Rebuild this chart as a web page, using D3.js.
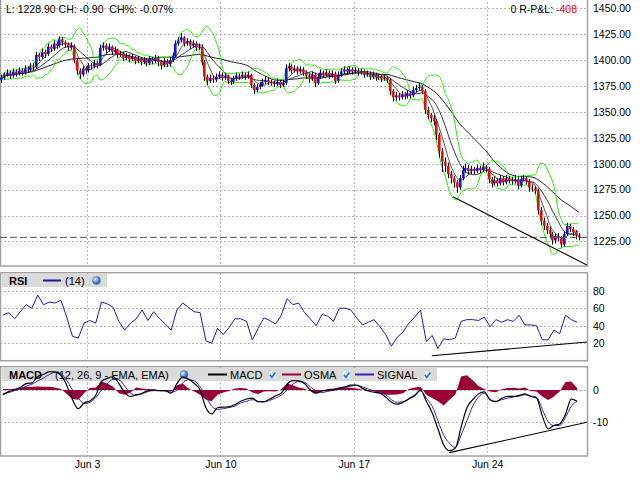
<!DOCTYPE html>
<html>
<head>
<meta charset="utf-8">
<script src="https://cdn.jsdelivr.net/npm/d3@7"></script>
<style>
  body { margin: 0; background: #fff; }
  svg { display: block; font-family: "Liberation Sans", Arial, sans-serif; }
</style>
</head>
<body>
<svg id="chart" width="640" height="480"></svg>
<script>
// bar data (open = previous close)
let firstOpen = 1381;
let closes = [
  1383,1386,1388,1385,1389,1387,1390,1388,1392,1391,
  1394,1393,1405,1403,1408,1406,1413,1411,1416,1414,
  1420,1417,1415,1412,1414,1400,1390,1386,1392,1390,
  1395,1394,1397,1395,1412,1414,1410,1413,1408,1410,
  1405,1406,1402,1404,1401,1403,1399,1401,1398,1400,
  1397,1401,1399,1402,1398,1395,1399,1396,1400,1404,
  1416,1419,1422,1416,1418,1414,1416,1412,1413,1398,
  1384,1380,1383,1381,1384,1386,1383,1385,1380,1379,
  1382,1385,1384,1386,1384,1386,1376,1371,1374,1376,
  1379,1381,1379,1378,1377,1379,1376,1378,1392,1394,
  1390,1392,1389,1391,1388,1385,1382,1386,1378,1384,
  1388,1386,1388,1385,1387,1380,1386,1389,1391,1389,
  1391,1389,1390,1388,1389,1386,1387,1384,1386,1383,
  1384,1382,1383,1381,1370,1364,1366,1364,1367,1365,
  1368,1366,1371,1373,1374,1370,1352,1347,1344,1341,
  1328,1312,1302,1298,1290,1286,1282,1277,1286,1294,
  1296,1293,1295,1293,1296,1294,1297,1295,1285,1281,
  1284,1281,1286,1282,1286,1284,1283,1285,1279,1285,
  1286,1283,1277,1276,1274,1255,1245,1240,1236,1232,
  1226,1230,1228,1222,1232,1240,1237,1234,1231,1228.9
];
let highs = [
  1386,1388,1391,1390,1392,1391,1393,1392,1395,1394,
  1397,1397,1408,1407,1411,1410,1416,1415,1419,1418,
  1423,1422,1419,1417,1417,1415,1402,1392,1394,1394,
  1397,1397,1400,1399,1415,1417,1416,1416,1414,1413,
  1411,1409,1408,1407,1406,1406,1404,1404,1403,1403,
  1402,1404,1403,1405,1404,1400,1402,1401,1403,1407,
  1419,1422,1426,1423,1421,1420,1419,1418,1416,1415,
  1400,1386,1386,1385,1387,1389,1388,1388,1386,1382,
  1385,1388,1387,1389,1388,1389,1387,1378,1377,1379,
  1382,1384,1383,1381,1380,1382,1381,1381,1396,1397,
  1396,1395,1394,1394,1393,1390,1387,1389,1388,1387,
  1391,1390,1391,1390,1390,1389,1389,1392,1394,1393,
  1394,1393,1393,1392,1392,1391,1390,1389,1389,1388,
  1387,1386,1386,1385,1383,1372,1369,1368,1370,1369,
  1371,1370,1374,1376,1378,1376,1372,1355,1349,1347,
  1343,1330,1315,1306,1301,1293,1288,1284,1289,1298,
  1300,1299,1298,1297,1299,1298,1301,1299,1297,1287,
  1288,1286,1289,1288,1289,1288,1287,1289,1287,1288,
  1289,1288,1285,1280,1278,1276,1258,1248,1243,1239,
  1234,1233,1233,1230,1235,1243,1242,1239,1236,1233
];
let lows = [
  1378,1381,1384,1382,1383,1384,1385,1385,1386,1388,
  1389,1390,1392,1399,1401,1402,1404,1408,1409,1411,
  1412,1414,1412,1409,1410,1397,1386,1382,1384,1387,
  1388,1391,1392,1392,1394,1409,1407,1408,1405,1406,
  1402,1403,1399,1400,1398,1399,1396,1397,1395,1396,
  1394,1395,1396,1397,1394,1391,1393,1393,1394,1398,
  1403,1414,1417,1413,1414,1411,1412,1409,1410,1395,
  1380,1376,1378,1378,1379,1382,1380,1381,1377,1376,
  1377,1380,1381,1382,1381,1382,1373,1367,1369,1372,
  1374,1377,1376,1375,1374,1375,1373,1374,1376,1389,
  1387,1388,1386,1387,1385,1382,1378,1380,1374,1376,
  1382,1383,1384,1382,1383,1377,1378,1384,1387,1386,
  1387,1386,1387,1385,1386,1383,1384,1381,1382,1380,
  1381,1379,1380,1378,1366,1360,1361,1361,1362,1362,
  1363,1363,1364,1369,1371,1367,1348,1343,1340,1337,
  1323,1306,1292,1292,1286,1281,1277,1272,1275,1284,
  1291,1289,1290,1290,1291,1291,1292,1292,1281,1277,
  1279,1278,1279,1279,1280,1281,1280,1281,1275,1277,
  1283,1280,1273,1273,1271,1251,1241,1236,1232,1228,
  1222,1223,1225,1219,1220,1230,1234,1230,1227,1226
];

// indicator values, one sample every two bars
let rsiValues = [
  52,55,48,56,64,60,75,64,67,66,
  69,50,28,26,43,46,43,67,65,61,
  45,35,43,48,58,46,56,48,42,35,
  58,66,61,56,55,23,20,37,30,38,
  48,48,45,24,37,49,46,42,52,71,
  64,66,55,48,40,53,51,45,60,60,
  58,49,41,44,47,39,30,17,27,33,
  43,50,58,22,29,14,25,24,26,45,
  47,47,46,50,39,47,44,47,45,52,
  41,41,40,24,24,35,31,52,47,44
];
let macdValues = [
  -1.5,-0.5,0,0.8,2,2.2,4.2,4.8,5.7,5.6,
  4.6,1.5,-3,-5.8,-4,-3.4,-1.7,2.7,3.6,4.1,
  2,-0.8,-2,-1.5,-1,-0.2,0,-0.2,-0.2,-1,
  2,4,3.4,2,0,-5.5,-7.4,-5.5,-5.3,-5.2,
  -4.5,-3.5,-2.8,-2.5,-3.6,-3.6,-2.8,-1.8,-1,1.8,
  2.9,2.8,2,0,-1,-0.3,-0.1,0,0.6,1,
  1.5,1.5,0.5,-0.3,-0.7,-1,-2.2,-3.8,-4.4,-3.8,
  -2.8,-1.8,0,-3.5,-7,-12,-17,-18.8,-18,-11.5,
  -5.5,-3,-1.2,-0.6,-3,-3.6,-2.6,-2,-2,-1.8,
  -1.2,-2,-2.5,-8,-12,-11,-10.5,-7.5,-2.8,-3.5
];
let signalValues = [
  -1.1,-0.8,-0.2,0.3,1.2,1.8,2.8,3.7,4.8,5.4,
  5,3,0,-2.5,-4.2,-3.8,-2.4,0,2,3.3,
  3.2,1.2,-1,-1.6,-1.2,-0.5,-0.2,-0.2,-0.3,-0.7,
  0,2.2,3.2,2.8,1,-2,-5,-6,-5.8,-5.4,
  -5,-4,-3.5,-3,-3.5,-3.7,-3.2,-2.5,-1.6,0,
  1.8,2.6,2.4,1,-0.3,-0.8,-0.4,-0.1,0.3,0.8,
  1.2,1.4,1,0.3,-0.3,-0.8,-1.4,-3,-3.8,-3.6,
  -2.6,-1.5,-0.3,-2.5,-5,-9.5,-14,-16.5,-17.8,-14,
  -9.5,-5,-2.2,-1,-3,-3.5,-3,-2.5,-2.2,-1.6,
  -1.5,-1.8,-2.2,-6,-9.8,-11,-11,-8.5,-5,-3.5
];
let osmaValues = [
  0.3,0.3,0.4,0.8,1,1,1.1,1,1,0.8,
  0.3,-1.2,-2.8,-3,-1,0.6,0.8,2.6,2,1,
  -1,-1.5,-0.8,0.8,0.5,0.3,0.2,-0.2,-0.3,-0.5,
  1.5,2,0.5,-0.5,-1.5,-3,-3.5,-1.5,-0.8,-0.3,
  0.5,0.6,0.5,-0.8,-1.2,-0.5,-0.4,-0.5,0.2,2,
  1.5,0.8,0.4,-0.3,-1,-0.5,0.3,0.5,0.8,0.8,
  0.7,0.5,0.1,-0.2,-0.4,-1,-1.5,-1.5,-1.4,-1,
  0.3,0.8,1,-1.5,-2.5,-3.5,-4.8,-3,-1.5,4.2,
  4.6,3,1.2,0.3,-0.5,-0.7,0.2,0.6,0.7,0.5,
  0.8,-0.3,-0.5,-2,-3.1,-2,-0.5,2.5,2.6,0.6
];

let dateLabels = ["Jun 3", "Jun 10", "Jun 17", "Jun 24"];
let dateBars = [30, 76, 122, 168];
let priceTicks = [1225, 1250, 1275, 1300, 1325, 1350, 1375, 1400, 1425, 1450];
let rsiTicks = [20, 40, 60, 80];
let macdTicks = [-10, 0];

let maPeriods = [5, 10, 25];
let maColors = ['#555', '#3a3a3a', '#222'];
let bbPeriod = 8;
let rsiLabel = '(14)';
let macdLabel = '(12, 26, 9 - EMA, EMA)';

let priceTrend = [[156.2, 1268], [202.4, 1202.2]];
let rsiTrend = [[148.9, 5.8], [202.4, 21.4]];
let macdTrend = [[154.9, -19.4], [202.4, -10]];

let lastPrice = 1228.90;
let change = -0.90;
let changePct = -0.07;
let openCount = 0;
let pnl = -408;

let svg = d3.select('#chart');
let plotW = 587;

let x = d3.scaleLinear().domain([0, closes.length]).range([0, 580]);
let yPrice = d3.scaleLinear().domain([1225, 1450]).range([241.4, 8.3]);
let yRsi = d3.scaleLinear().domain([20, 80]).range([343.3, 290.7]);
let yMacd = d3.scaleLinear().domain([-10, 0]).range([422.3, 390]);

let panels = [
  {id: 'p', top: -2, bottom: 266},
  {id: 'r', top: 272.7, bottom: 360.7},
  {id: 'm', top: 366.7, bottom: 456}
];

let defs = svg.append('defs');
panels.forEach(p => {
  defs.append('clipPath').attr('id', 'clip-' + p.id)
    .append('rect').attr('x', 0).attr('y', p.top).attr('width', plotW).attr('height', p.bottom - p.top);
});
let grad = defs.append('radialGradient').attr('id', 'globe').attr('cx', '35%').attr('cy', '35%');
grad.append('stop').attr('offset', '0%').attr('stop-color', '#eaf4ff');
grad.append('stop').attr('offset', '100%').attr('stop-color', '#2f6fb8');

// ---- price overlays ----
let opens = closes.map((c, i) => i ? closes[i - 1] : firstOpen);
let sma = (vals, n) => vals.map((v, i) => d3.mean(vals.slice(Math.max(0, i - n + 1), i + 1)));
let bands = closes.map((v, i) => {
  let w = closes.slice(Math.max(0, i - bbPeriod + 1), i + 1);
  let m = d3.mean(w);
  let sd = Math.sqrt(d3.mean(w, d => (d - m) * (d - m)));
  return {up: m + 2 * sd, lo: m - 2 * sd};
});

// ---- frames & grids ----
let grid = svg.append('g').attr('stroke', '#b4b4b4').attr('stroke-dasharray', '2,2').attr('stroke-width', 1);
panels.forEach(p => {
  grid.selectAll(null).data(dateBars).enter().append('line')
    .attr('x1', d => Math.round(x(d)) + 0.5).attr('x2', d => Math.round(x(d)) + 0.5)
    .attr('y1', p.top).attr('y2', p.bottom);
});
let hgrid = (ticks, sc) => grid.selectAll(null).data(ticks).enter().append('line')
  .attr('x1', 0).attr('x2', plotW)
  .attr('y1', d => Math.round(sc(d)) + 0.5).attr('y2', d => Math.round(sc(d)) + 0.5);
hgrid(priceTicks, yPrice);
hgrid(rsiTicks, yRsi);
hgrid(macdTicks, yMacd);

svg.append('g').selectAll('rect').data(panels).enter().append('rect')
  .attr('x', 0.5).attr('y', d => d.top).attr('width', plotW).attr('height', d => d.bottom - d.top)
  .attr('fill', 'none').attr('stroke', '#a0a0a0').attr('stroke-width', 1.5);

// ---- price panel ----
let pp = svg.append('g').attr('clip-path', 'url(#clip-p)');
let cx = i => x(i + 0.5);
let sx = k => x(2 * k + 1);

maPeriods.forEach((n, k) => {
  pp.append('path').datum(sma(closes, n))
    .attr('fill', 'none').attr('stroke', maColors[k]).attr('stroke-width', 1)
    .attr('d', d3.line().x((d, i) => cx(i)).y(d => yPrice(d)));
});
['up', 'lo'].forEach(key => {
  pp.append('path').datum(bands)
    .attr('fill', 'none').attr('stroke', '#22ee00').attr('stroke-width', 1)
    .attr('d', d3.line().x((d, i) => cx(i)).y(d => yPrice(d[key])).curve(d3.curveMonotoneX));
});

pp.append('g').selectAll('line').data(closes).enter().append('line')
  .attr('x1', (d, i) => Math.round(cx(i)) + 0.5).attr('x2', (d, i) => Math.round(cx(i)) + 0.5)
  .attr('y1', (d, i) => yPrice(highs[i])).attr('y2', (d, i) => yPrice(lows[i]))
  .attr('stroke', '#000').attr('stroke-width', 1);
pp.append('g').selectAll('rect').data(closes).enter().append('rect')
  .attr('x', (d, i) => Math.round(cx(i)) - 1)
  .attr('width', 2.6)
  .attr('y', (d, i) => yPrice(Math.max(d, opens[i])))
  .attr('height', (d, i) => Math.max(1, Math.abs(yPrice(d) - yPrice(opens[i]))))
  .attr('fill', (d, i) => d >= opens[i] ? '#1414dc' : '#e01010');

pp.append('line')
  .attr('x1', 0).attr('x2', plotW)
  .attr('y1', yPrice(lastPrice)).attr('y2', yPrice(lastPrice))
  .attr('stroke', '#555').attr('stroke-dasharray', '7,3').attr('stroke-width', 1);

pp.append('path').datum(priceTrend)
  .attr('fill', 'none').attr('stroke', '#000').attr('stroke-width', 1.1)
  .attr('d', d3.line().x(d => x(d[0])).y(d => yPrice(d[1])));

// ---- RSI panel ----
let rp = svg.append('g');
rp.append('rect').attr('x', 2).attr('y', 274).attr('width', 105).attr('height', 13).attr('fill', '#dadada');
rp.append('text').attr('x', 9).attr('y', 284.5).attr('font-size', 11).attr('font-weight', 'bold').text('RSI');
rp.append('line').attr('x1', 43).attr('x2', 61).attr('y1', 280.5).attr('y2', 280.5)
  .attr('stroke', '#1a1a8c').attr('stroke-width', 2);
rp.append('text').attr('x', 65).attr('y', 284.5).attr('font-size', 11).text(rsiLabel);
rp.append('circle').attr('cx', 96.5).attr('cy', 280.5).attr('r', 4).attr('fill', 'url(#globe)').attr('stroke', '#56789e').attr('stroke-width', 0.5);

let rpc = rp.append('g').attr('clip-path', 'url(#clip-r)');
rpc.append('path').datum(rsiValues)
  .attr('fill', 'none').attr('stroke', '#1c1cb4').attr('stroke-width', 1)
  .attr('d', d3.line().x((d, k) => sx(k)).y(d => yRsi(d)));
rpc.append('path').datum(rsiTrend)
  .attr('fill', 'none').attr('stroke', '#000').attr('stroke-width', 1.1)
  .attr('d', d3.line().x(d => x(d[0])).y(d => yRsi(d[1])));

// ---- MACD panel ----
let mp = svg.append('g');
mp.append('rect').attr('x', 2).attr('y', 368).attr('width', 435).attr('height', 13).attr('fill', '#dadada');
mp.append('text').attr('x', 9).attr('y', 378.5).attr('font-size', 11).attr('font-weight', 'bold').text('MACD');
mp.append('text').attr('x', 55).attr('y', 378.5).attr('font-size', 11).text(macdLabel);
mp.append('circle').attr('cx', 184).attr('cy', 374.5).attr('r', 4).attr('fill', 'url(#globe)').attr('stroke', '#56789e').attr('stroke-width', 0.5);

let legendItems = [
  {name: 'MACD', color: '#000', x: 208},
  {name: 'OSMA', color: '#990033', x: 282},
  {name: 'SIGNAL', color: '#3a22b4', x: 355}
];
legendItems.forEach(it => {
  mp.append('line').attr('x1', it.x).attr('x2', it.x + 19).attr('y1', 374.5).attr('y2', 374.5)
    .attr('stroke', it.color).attr('stroke-width', 2);
  let t = mp.append('text').attr('x', it.x + 22).attr('y', 378.5).attr('font-size', 11).text(it.name);
  let cbx = it.x + 22 + t.node().getComputedTextLength() + 6;
  mp.append('rect').attr('x', cbx).attr('y', 371).attr('width', 8).attr('height', 8)
    .attr('fill', '#eef3fa').attr('stroke', '#c5d2e2').attr('stroke-width', 0.6);
  mp.append('path').attr('d', `M${cbx + 1.5},${375} L${cbx + 3.5},${377.5} L${cbx + 7},${372.5}`)
    .attr('fill', 'none').attr('stroke', '#1a6fd6').attr('stroke-width', 1.6);
});

let mpc = mp.append('g').attr('clip-path', 'url(#clip-m)');
mpc.append('path').datum(osmaValues)
  .attr('fill', '#990033')
  .attr('d', d3.area().x((d, k) => sx(k)).y0(yMacd(0)).y1(d => yMacd(d)));
mpc.append('path').datum(signalValues)
  .attr('fill', 'none').attr('stroke', '#3a22b4').attr('stroke-width', 1)
  .attr('d', d3.line().x((d, k) => sx(k)).y(d => yMacd(d)).curve(d3.curveMonotoneX));
mpc.append('path').datum(macdValues)
  .attr('fill', 'none').attr('stroke', '#000').attr('stroke-width', 1.2)
  .attr('d', d3.line().x((d, k) => sx(k)).y(d => yMacd(d)).curve(d3.curveMonotoneX));
mpc.append('path').datum(macdTrend)
  .attr('fill', 'none').attr('stroke', '#000').attr('stroke-width', 1.1)
  .attr('d', d3.line().x(d => x(d[0])).y(d => yMacd(d[1])));

// ---- axes ----
let styleAxis = g => {
  g.select('.domain').remove();
  g.selectAll('text').attr('font-size', 10.5).attr('fill', '#000')
    .attr('font-family', '"Liberation Sans", Arial, sans-serif');
};
svg.append('g').attr('transform', 'translate(589,0)')
  .call(d3.axisRight(yPrice).tickValues(priceTicks).tickSize(0).tickPadding(4).tickFormat(d3.format('.2f')))
  .call(styleAxis);
svg.append('g').attr('transform', 'translate(589,0)')
  .call(d3.axisRight(yRsi).tickValues(rsiTicks).tickSize(0).tickPadding(4))
  .call(styleAxis);
svg.append('g').attr('transform', 'translate(589,0)')
  .call(d3.axisRight(yMacd).tickValues(macdTicks).tickSize(0).tickPadding(4).tickFormat(d => String(d)))
  .call(styleAxis);
svg.append('g').attr('transform', 'translate(0,458)')
  .call(d3.axisBottom(x).tickValues(dateBars).tickSize(0).tickPadding(3).tickFormat((d, i) => dateLabels[i]))
  .call(styleAxis);

// ---- header ----
let fmt = v => (v < 0 ? '-' : '') + Math.abs(v).toFixed(2);
svg.append('text').attr('x', 6).attr('y', 12.5).attr('font-size', 10.5)
  .attr('xml:space', 'preserve')
  .text(`L: ${lastPrice.toFixed(2)} CH: ${fmt(change)}  CH%: ${fmt(changePct)}%`);
let rt = svg.append('text').attr('x', 577).attr('y', 12.5).attr('font-size', 10.5).attr('text-anchor', 'end');
rt.append('tspan').text(openCount + ' R-P&L: ');
rt.append('tspan').attr('fill', '#ff0000').text(String(pnl));
</script>
</body>
</html>
